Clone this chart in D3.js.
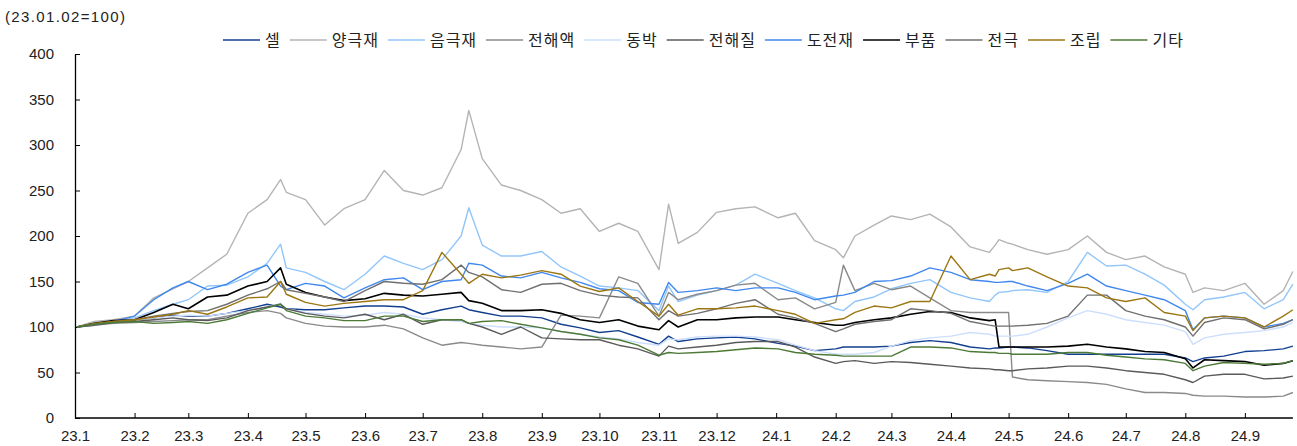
<!DOCTYPE html>
<html>
<head>
<meta charset="utf-8">
<script src="https://cdn.jsdelivr.net/npm/d3@7"></script>
<style>
  body { margin: 0; background: #fff; }
  svg text { font-family: "Liberation Sans", "Noto Sans CJK KR", sans-serif; fill: #222; }
</style>
</head>
<body>
<div id="container"></div>
<script>
// sample dates (roughly every 10 days, plus a few turning points)
var dates = ["2023-01-02","2023-01-11","2023-01-21","2023-02-01","2023-02-11","2023-02-21","2023-03-01","2023-03-11","2023-03-21","2023-04-01","2023-04-11","2023-04-18",
             "2023-04-21","2023-05-01","2023-05-11","2023-05-21","2023-06-01","2023-06-11","2023-06-21","2023-07-01","2023-07-11","2023-07-21","2023-07-25","2023-08-01",
             "2023-08-11","2023-08-21","2023-09-01","2023-09-11","2023-09-21","2023-10-01","2023-10-11","2023-10-21","2023-11-01","2023-11-06","2023-11-11","2023-11-21",
             "2023-12-01","2023-12-11","2023-12-21","2024-01-02","2024-01-11","2024-01-21","2024-02-01","2024-02-05","2024-02-11","2024-02-21","2024-03-01","2024-03-11",
             "2024-03-21","2024-04-01","2024-04-11","2024-04-21","2024-04-24","2024-04-26","2024-05-01","2024-05-03","2024-05-11","2024-05-21","2024-06-01","2024-06-11",
             "2024-06-21","2024-07-01","2024-07-11","2024-07-21","2024-08-01","2024-08-05","2024-08-11","2024-08-21","2024-09-01","2024-09-11","2024-09-21","2024-09-26"];

var cell        = [100,103,106,108,110,113,112,112,115,120,125,122, 120,119,119,121,123,123,122,114,119,123,119,116,
                   112,112,110,103,99,94,96,89,81,90,84,87, 88,89,87,82,79,74,76,78,78,78,79,83,
                   85,83,78,76,77,77,78,78,77,74,70,70, 70,70,70,70,66,62,66,68,73,74,76,79];
var cathode     = [100,106,108,112,132,142,150,165,180,225,240,262, 248,240,212,230,240,272,250,245,253,295,338,285,
                   256,250,240,225,230,205,214,205,163,235,192,204, 226,230,232,220,225,195,185,176,200,212,222,218,
                   224,210,188,182,190,196,192,191,185,180,185,200, 182,174,178,166,158,138,143,140,148,125,140,161];
var anode       = [100,104,106,110,118,125,130,145,146,155,170,191, 165,160,150,141,158,178,170,163,174,200,231,190,
                   178,178,183,166,156,145,143,140,118,145,128,135, 140,146,158,148,140,132,120,118,128,133,142,148,
                   152,138,132,128,135,138,139,140,141,138,150,182, 167,168,158,146,125,119,130,133,138,120,130,147];
var electrolyte = [100,102,104,105,106,107,108,108,112,116,118,115, 110,104,101,100,100,102,98,88,80,83,82,80,
                   78,76,78,113,112,110,155,148,112,138,130,136, 140,146,148,130,132,120,127,168,140,148,141,145,
                   132,118,116,116,116,116,116,45,42,41,40,39, 37,32,28,28,27,25,24,24,23,23,24,28];
var copperFoil  = [100,104,107,108,110,112,113,112,115,118,122,126, 120,116,114,112,113,116,114,110,108,106,104,102,
                   100,100,99,95,92,89,87,83,80,87,86,89, 90,90,89,86,80,74,70,70,70,72,79,85,
                   88,90,94,92,90,90,90,90,92,100,110,118, 114,108,105,102,95,81,88,92,94,96,100,105];
var salt        = [100,102,105,106,108,110,108,107,110,118,122,125, 120,115,112,110,114,108,114,103,108,108,104,100,
                   92,100,88,87,86,86,80,76,68,79,76,78, 80,83,84,84,78,67,60,62,63,60,62,61,
                   59,57,55,54,53,53,52,52,54,55,57,57, 55,52,50,48,42,39,46,48,48,43,44,46];
var conductive  = [100,103,106,112,130,143,150,141,147,160,168,145, 141,148,145,132,143,152,154,141,150,152,170,168,
                   156,154,160,154,149,142,140,127,125,149,138,140, 143,140,143,143,138,130,134,135,138,150,151,156,
                   165,160,152,150,149,149,150,150,145,140,148,158, 145,140,135,130,118,97,110,112,110,100,104,108];
var parts       = [100,104,107,108,116,125,120,133,135,145,150,165, 147,138,133,129,131,137,135,134,136,138,129,126,
                   118,118,119,115,108,105,108,101,97,107,100,108, 108,110,111,111,108,105,102,102,105,108,110,114,
                   117,116,110,107,108,78,78,78,78,78,79,81, 78,76,73,72,65,55,64,63,62,58,60,63];
var electrode   = [100,103,106,108,112,115,117,118,125,135,142,150, 141,137,133,128,140,150,148,147,152,168,160,155,
                   141,138,147,148,140,135,133,132,108,118,112,115, 120,126,130,114,110,104,95,98,103,106,108,120,
                   118,115,106,102,101,101,101,101,102,104,112,135, 135,118,112,108,100,90,105,110,108,98,103,108];
var assembly    = [100,104,106,108,111,114,118,114,122,132,133,150, 136,127,123,126,128,130,130,140,182,158,148,158,
                   154,157,162,158,145,139,143,128,112,125,113,120, 120,121,123,118,114,104,108,109,116,123,121,128,
                   128,178,152,158,156,163,165,162,165,155,145,143, 132,128,132,116,112,96,110,112,110,100,112,119];
var others      = [100,103,105,106,104,105,106,104,108,115,121,125, 118,112,110,107,107,112,112,106,108,108,104,106,
                   107,103,99,95,92,88,86,80,69,72,71,72, 73,75,77,76,72,70,69,68,68,68,68,78,
                   78,77,73,72,72,71,71,70,70,70,72,72, 69,67,65,64,60,52,57,61,60,59,60,63];

var seriesNames = ["셀", "양극재", "음극재", "전해액", "동박", "전해질", "도전재", "부품", "전극", "조립", "기타"];
var seriesValues = [cell, cathode, anode, electrolyte, copperFoil, salt, conductive, parts, electrode, assembly, others];
var seriesColors = ["#123f8f", "#b4b4b4", "#92c6fb", "#8a8a8a", "#cddffd", "#5a5a5a", "#4088ee", "#000000", "#707070", "#9c7612", "#4c7a36"];

var yTicks = [0, 50, 100, 150, 200, 250, 300, 350, 400];

var parse = d3.timeParse("%Y-%m-%d");
var dateObjs = dates.map(parse);

var svg = d3.select("#container").append("svg")
            .attr("width", 1297).attr("height", 446);

var x = d3.scaleTime()
          .domain([new Date(2023, 0, 1), new Date(2024, 9, 1)])
          .range([75, 1302.5]);
var y = d3.scaleLinear().domain([0, 400]).range([418, 54]);

// unit note
svg.append("text").attr("x", 5).attr("y", 22)
   .attr("textLength", 120).attr("lengthAdjust", "spacing")
   .style("font-size", "15px").text("(23.01.02=100)");

// y axis
var yAxis = d3.axisLeft(y).tickValues(yTicks)
              .tickSizeInner(-5).tickSizeOuter(0).tickPadding(21);
var gy = svg.append("g").attr("transform", "translate(75,0)").call(yAxis);
gy.selectAll("text").style("font-size", "15px");
gy.select(".domain").attr("stroke", "#000").attr("stroke-width", 1.3);
gy.selectAll(".tick line").attr("stroke", "#000");

// x axis
var months = d3.timeMonth.range(new Date(2023, 0, 1), new Date(2024, 9, 1));
var xAxis = d3.axisBottom(x).tickValues(months)
              .tickFormat(function(d){ return d3.timeFormat("%y")(d) + "." + (d.getMonth() + 1); })
              .tickSizeInner(-5).tickSizeOuter(0).tickPadding(12);
var gx = svg.append("g").attr("transform", "translate(0,418)").call(xAxis);
gx.select(".domain").remove();
gx.selectAll("text").style("font-size", "15px");
gx.selectAll(".tick line").attr("stroke", "#000");
gx.append("line").attr("x1", 75).attr("x2", x(dateObjs[dateObjs.length - 1]))
  .attr("y1", 0).attr("y2", 0).attr("stroke", "#000").attr("stroke-width", 1.3);

// lines
var line = d3.line()
             .x(function(d){ return x(d.date); })
             .y(function(d){ return y(d.v); });

var series = seriesNames.map(function(name, i){
  return { name: name, color: seriesColors[i],
           points: seriesValues[i].map(function(v, j){ return { date: dateObjs[j], v: v }; }) };
});

svg.append("g").selectAll("path").data(series).enter().append("path")
   .attr("fill", "none")
   .attr("stroke", function(d){ return d.color; })
   .attr("stroke-width", function(d){ return d.name == "부품" ? 1.6 : 1.4; })
   .attr("stroke-linejoin", "round")
   .attr("d", function(d){ return line(d.points); });

// legend
var legend = svg.append("g");
var lx = 223;
series.forEach(function(d){
  legend.append("line").attr("x1", lx).attr("x2", lx + 37).attr("y1", 40).attr("y2", 40)
        .attr("stroke", d.color).attr("stroke-width", 1.6);
  var t = legend.append("text").attr("x", lx + 42).attr("y", 46)
                .style("font-size", "16px").style("letter-spacing", "1px").text(d.name);
  lx = lx + 42 + t.node().getComputedTextLength() + 9;
});
</script>
</body>
</html>
